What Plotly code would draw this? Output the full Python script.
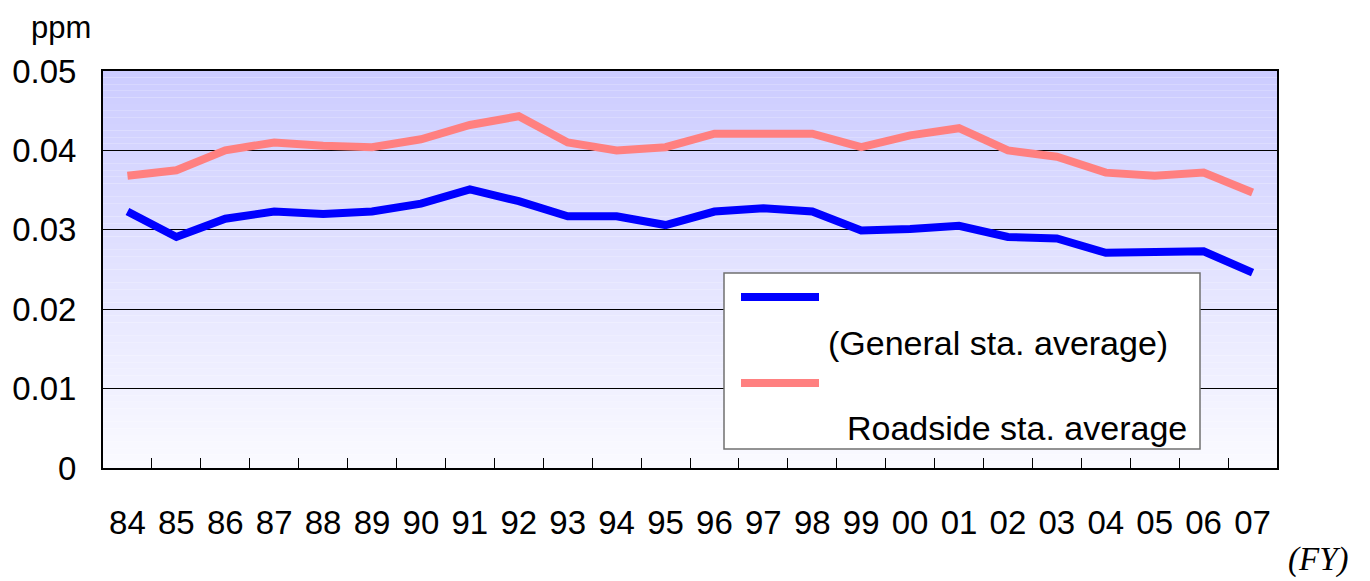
import plotly.graph_objects as go

years = ["84", "85", "86", "87", "88", "89", "90", "91", "92", "93", "94", "95",
         "96", "97", "98", "99", "00", "01", "02", "03", "04", "05", "06", "07"]
general_avg = [0.0323, 0.0291, 0.0314, 0.0323, 0.0320, 0.0323, 0.0333, 0.0351,
               0.0336, 0.0317, 0.0317, 0.0306, 0.0323, 0.0327, 0.0323, 0.0299,
               0.0301, 0.0305, 0.0291, 0.0289, 0.0271, 0.0273, 0.0273, 0.0246]
roadside_avg = [0.0368, 0.0375, 0.0400, 0.0410, 0.0406, 0.0404, 0.0414, 0.0432,
                0.0443, 0.0410, 0.0400, 0.0404, 0.0421, 0.0421, 0.0421, 0.0404,
                0.0419, 0.0428, 0.0400, 0.0392, 0.0372, 0.0368, 0.0372, 0.0347]
legend_labels = ["(General sta. average)", "Roadside sta. average"]
y_ticks = [0, 0.01, 0.02, 0.03, 0.04, 0.05]
y_ticklabels = ["0", "0.01", "0.02", "0.03", "0.04", "0.05"]

# page body has an 8px margin, so the figure is drawn 8px smaller / offset
OFF = 8
W, H = 1370 - OFF, 581 - OFF
L, R, T, B = 103, 1277, 71, 468   # plot area in screenshot pixels
BLUE = "#0000FF"
PINK = "#FF8080"
FONT = "Liberation Sans"


def px_x(px):
    return (px - L) / (R - L)


def px_y(py):
    return (B - py) / (B - T)


fig = go.Figure()
fig.add_trace(go.Scatter(x=years, y=general_avg, mode="lines", name=legend_labels[0],
                         line=dict(color=BLUE, width=8), showlegend=False))
fig.add_trace(go.Scatter(x=years, y=roadside_avg, mode="lines", name=legend_labels[1],
                         line=dict(color=PINK, width=8), showlegend=False))

shapes = []
# gradient background bands
n = 60
top_c = (204, 204, 255)
bot_c = (250, 250, 255)
for i in range(n):
    f = i / (n - 1)
    c = tuple(round(bot_c[k] + (top_c[k] - bot_c[k]) * f) for k in range(3))
    shapes.append(dict(type="rect", xref="paper", yref="paper",
                       x0=0, x1=1, y0=i / n, y1=(i + 1) / n,
                       fillcolor="rgb(%d,%d,%d)" % c, line=dict(width=0), layer="below"))

# manual legend
shapes.append(dict(type="rect", xref="paper", yref="paper",
                   x0=px_x(724), x1=px_x(1200), y0=px_y(449), y1=px_y(273),
                   fillcolor="white", line=dict(color="#707070", width=1.5)))
shapes.append(dict(type="line", xref="paper", yref="paper",
                   x0=px_x(741), x1=px_x(819), y0=px_y(297), y1=px_y(297),
                   line=dict(color=BLUE, width=8)))
shapes.append(dict(type="line", xref="paper", yref="paper",
                   x0=px_x(741), x1=px_x(819), y0=px_y(383), y1=px_y(383),
                   line=dict(color=PINK, width=8)))

annotations = [
    dict(text=legend_labels[0], xref="paper", yref="paper", x=px_x(826), y=px_y(343),
         xanchor="left", yanchor="middle", showarrow=False,
         font=dict(family=FONT, size=34, color="black")),
    dict(text=legend_labels[1], xref="paper", yref="paper", x=px_x(845), y=px_y(428),
         xanchor="left", yanchor="middle", showarrow=False,
         font=dict(family=FONT, size=34, color="black")),
    dict(text="ppm", xref="paper", yref="paper", x=px_x(61), y=px_y(27),
         xanchor="center", yanchor="middle", showarrow=False, borderpad=0,
         font=dict(family=FONT, size=31, color="black")),
    dict(text="<i>(FY)</i>", xref="paper", yref="paper", x=px_x(1318), y=px_y(559),
         xanchor="center", yanchor="middle", showarrow=False,
         font=dict(family="Liberation Serif", size=33, color="black")),
]

fig.update_layout(
    width=W, height=H,
    margin=dict(l=L - OFF, r=W - (R - OFF), t=T - OFF, b=H - (B - OFF), autoexpand=False),
    paper_bgcolor="white",
    plot_bgcolor="white",
    shapes=shapes,
    annotations=annotations,
    showlegend=False,
    xaxis=dict(type="category", range=[-0.5, len(years) - 0.5],
               showline=True, linecolor="black", linewidth=2,
               mirror=True, showgrid=False, ticks="inside", ticklen=10,
               tickcolor="black", tickson="boundaries", tickwidth=1,
               tickfont=dict(family=FONT, size=33, color="black"),
               ticklabelstandoff=24),
    yaxis=dict(range=[0, 0.05], tickvals=y_ticks, ticktext=y_ticklabels,
               showline=True, linecolor="black", linewidth=2, mirror=True,
               showgrid=True, gridcolor="black", gridwidth=1, ticks="",
               zeroline=False,
               tickfont=dict(family=FONT, size=33, color="black"),
               ticklabelstandoff=18),
)

fig.write_html("out.html")
